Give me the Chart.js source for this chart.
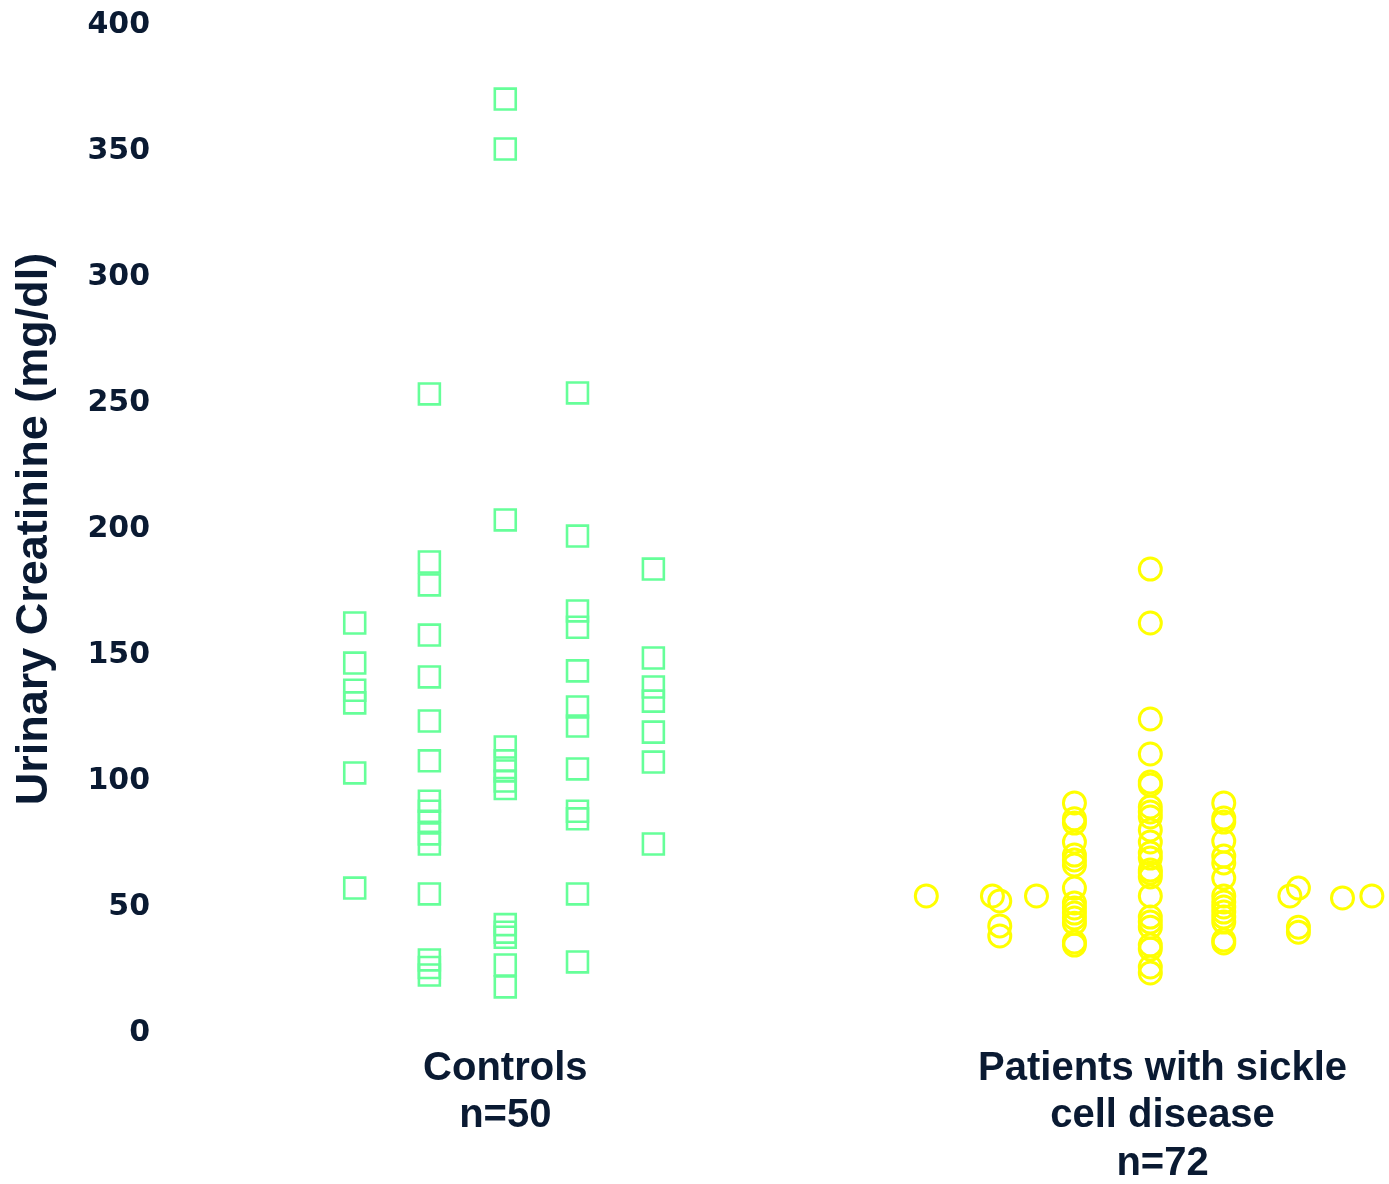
<!DOCTYPE html>
<html>
<head>
<meta charset="utf-8">
<title>Urinary Creatinine</title>
<script src="https://cdn.jsdelivr.net/npm/chart.js@4"></script>
<style>
  html, body { margin: 0; padding: 0; background: #ffffff; overflow: hidden; }
  #wrap { width: 1389px; height: 1184px; position: relative; }
  #wrap canvas { display: block; }
</style>
</head>
<body>
<div id="wrap"><canvas id="chart"></canvas></div>
<script>
// Group labels on the horizontal axis and where they sit
const groupLabels = [
  ['Controls', 'n=50'],
  ['Patients with sickle', 'cell disease', 'n=72']
];
const groupCenters = [27.8, 81.5];

// Y-axis ticks
const yTicks = [0, 50, 100, 150, 200, 250, 300, 350, 400];

// Controls: horizontal column positions and urinary creatinine (mg/dl) per column
const controlColumns = [15.5, 21.6, 27.8, 33.7, 39.9];
const controlCol1 = [162.7, 146.8, 136, 131, 103.2, 57.5];
const controlCol2 = [253.6, 186.9, 177.8, 157.9, 141.3, 123.8, 108, 92, 88, 84, 79, 75, 55.2, 29, 26, 23];
const controlCol3 = [370.6, 350.8, 203.6, 113.5, 108, 104, 100, 97, 43, 40, 38, 27, 18.3];
const controlCol4 = [254, 197.2, 167.5, 161, 143.7, 129.4, 121.8, 104.8, 88, 85, 55.2, 28.2];
const controlCol5 = [184.1, 148.8, 137.3, 131.7, 119.4, 107.5, 75];

// Patients with sickle cell disease: column positions and values per column
const patientColumns = [62.2, 67.6, 68.2, 71.2, 74.3, 80.5, 86.5, 91.9, 92.6, 96.2, 98.6];
const patientCol1 = [54.4];
const patientCol2 = [54.4];
const patientCol3 = [52.4, 42.5, 38.5];
const patientCol4 = [54.4];
const patientCol5 = [91.3, 85, 83.3, 75.8, 70.6, 68.7, 66.7, 57.5, 51.6, 49.6, 47.6, 45.6, 43.6, 36.1, 34.9];
const patientCol6 = [184.1, 162.7, 124.6, 110.7, 99.6, 98.4, 89.7, 87.7, 85.7, 80.6, 75.8, 71.4, 69.4, 64.7, 63.5, 61.9, 54.4, 46, 44, 42, 34.9, 33.3, 26.2, 23.8];
const patientCol7 = [91.3, 85.3, 83.7, 76.2, 70.2, 67.5, 61.5, 54.4, 52, 50, 48, 46, 44, 36.9, 35.7];
const patientCol8 = [54.4];
const patientCol9 = [57.5, 42, 40];
const patientCol10 = [53.6];
const patientCol11 = [54.4];

const controlValues = [controlCol1, controlCol2, controlCol3, controlCol4, controlCol5];
const patientValues = [patientCol1, patientCol2, patientCol3, patientCol4, patientCol5, patientCol6,
  patientCol7, patientCol8, patientCol9, patientCol10, patientCol11];

function toPoints(columns, values) {
  const pts = [];
  columns.forEach((x, i) => values[i].forEach(v => pts.push({ x: x, y: v })));
  return pts;
}

const textColor = '#0a1a32';

new Chart(document.getElementById('chart'), {
  type: 'scatter',
  data: {
    datasets: [
      {
        label: 'Controls',
        data: toPoints(controlColumns, controlValues),
        pointStyle: 'rect',
        pointRadius: 14.8,
        pointBorderWidth: 2.6,
        borderColor: '#66ff99',
        backgroundColor: 'rgba(0,0,0,0)',
        clip: false
      },
      {
        label: 'Patients with sickle cell disease',
        data: toPoints(patientColumns, patientValues),
        pointStyle: 'circle',
        pointRadius: 11,
        pointBorderWidth: 3,
        borderColor: '#ffff00',
        backgroundColor: 'rgba(0,0,0,0)',
        clip: false
      }
    ]
  },
  options: {
    responsive: true,
    maintainAspectRatio: false,
    animation: false,
    layout: { autoPadding: false, padding: { top: 25, right: 0, bottom: 0, left: 0 } },
    plugins: {
      legend: { display: false },
      tooltip: { enabled: false }
    },
    scales: {
      x: {
        type: 'linear',
        min: 0,
        max: 100,
        grid: { display: false, drawTicks: false },
        border: { display: false },
        afterBuildTicks: (scale) => {
          scale.ticks = groupCenters.map(v => ({ value: v }));
        },
        afterFit: (scale) => {
          scale.height = 151;
          scale.paddingLeft = 0;
          scale.paddingRight = 0;
        },
        ticks: {
          autoSkip: false,
          maxRotation: 0,
          minRotation: 0,
          padding: 12,
          color: textColor,
          font: { family: '"Liberation Sans", Arial, sans-serif', size: 40, weight: 'bold', lineHeight: 1.19 },
          callback: (value, index) => groupLabels[index]
        }
      },
      y: {
        min: 0,
        max: 400,
        grid: { display: false, drawTicks: false },
        border: { display: false },
        afterBuildTicks: (scale) => {
          scale.ticks = yTicks.map(v => ({ value: v }));
        },
        afterFit: (scale) => {
          scale.width = 165;
          scale.paddingTop = 0;
          scale.paddingBottom = 0;
        },
        ticks: {
          padding: 15,
          color: textColor,
          font: { family: '"DejaVu Sans", sans-serif', size: 30, weight: 'bold' }
        },
        title: {
          display: true,
          text: 'Urinary Creatinine (mg/dl)',
          color: textColor,
          padding: { top: 8, bottom: 0 },
          font: { family: '"Liberation Sans", Arial, sans-serif', size: 45, weight: 'bold', lineHeight: 1.2 }
        }
      }
    }
  }
});
</script>
</body>
</html>
